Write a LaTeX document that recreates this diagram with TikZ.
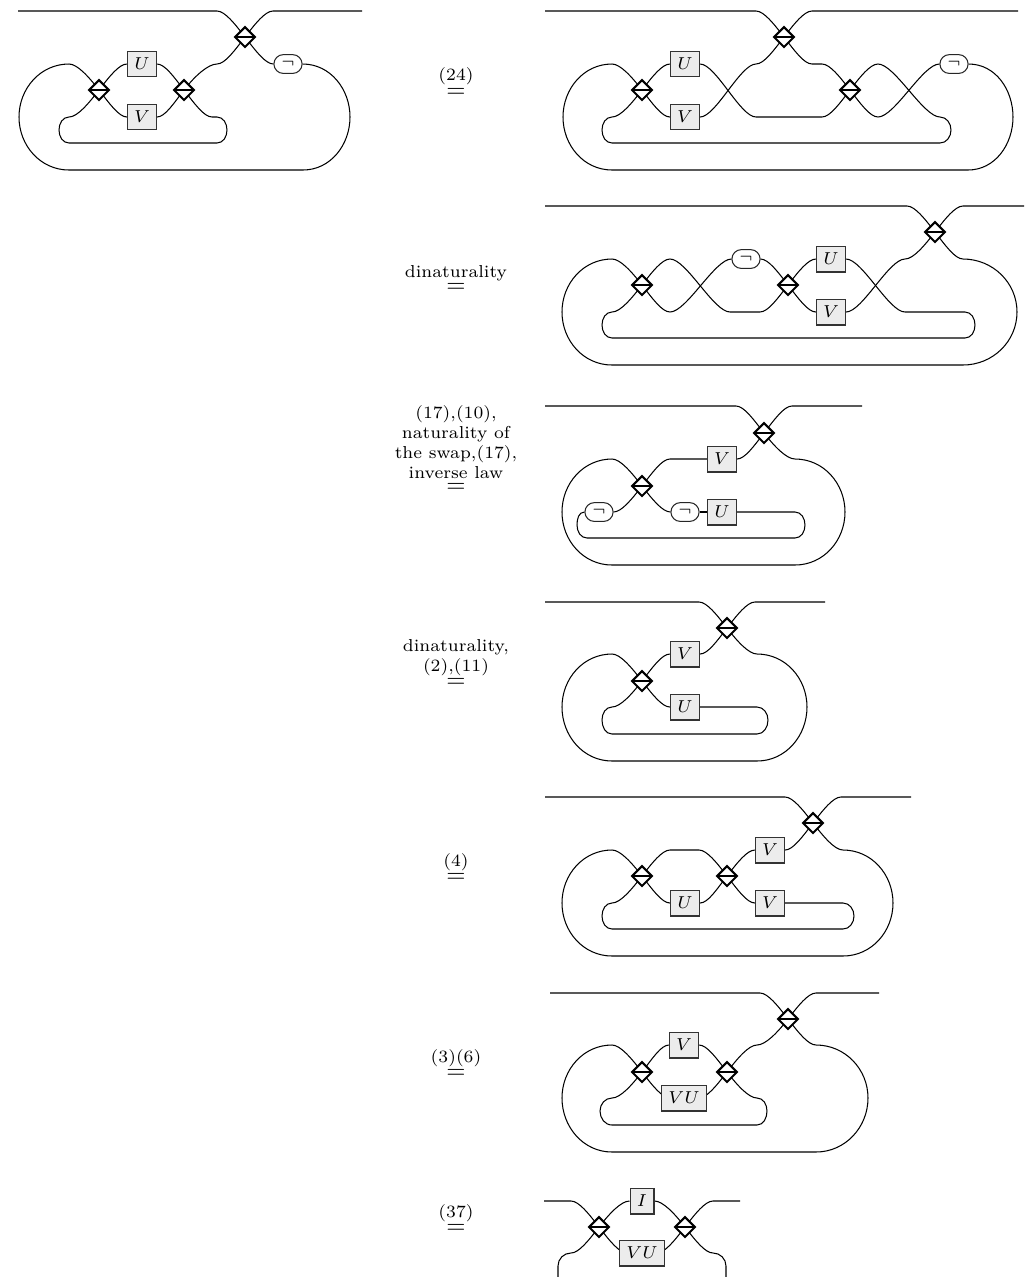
\documentclass[tikz,border=0pt]{standalone}
\usetikzlibrary{shapes.geometric}
\definecolor{boxfill}{HTML}{ECECEC}
\pgfdeclarelayer{wires}
\pgfsetlayers{wires,main}
\newcommand{\eqlab}[1]{$\stackrel{\mbox{\scriptsize\vbox{\baselineskip=8pt\halign{\hfil##\hfil\cr#1\cr}}}}{=}$}
\tikzset{
  wire/.style={line width=0.4pt},
  dia/.style={diamond,shape aspect=1,draw,fill=white,line width=0.8pt,minimum width=8pt,minimum height=8pt,inner sep=0pt,
    path picture={\draw[line width=0.8pt] (path picture bounding box.west) -- (path picture bounding box.east);}},
  ubox/.style={rectangle,draw=black!80,fill=boxfill,line width=0.4pt,scale=0.95,minimum width=11.8pt,minimum height=10.5pt,inner sep=0pt,font=\scriptsize},
  negn/.style={rectangle,draw=black!85,fill=white,rounded corners=3.6pt,line width=0.4pt,scale=0.95,minimum width=11.4pt,minimum height=7.6pt,inner sep=0pt,font=\scriptsize},
  eqn/.style={anchor=base,inner sep=0pt,scale=0.95},
  inUL/.style={out=0,in=127.7,out looseness=.53,in looseness=1.1},
  inUR/.style={out=180,in=52.3,out looseness=.53,in looseness=1.1},
  inLL/.style={out=0,in=232.3,out looseness=.53,in looseness=1.1},
  inLR/.style={out=180,in=307.7,out looseness=.53,in looseness=1.1},
  outUL/.style={out=127.7,in=0,out looseness=1.1,in looseness=.53},
  outUR/.style={out=52.3,in=180,out looseness=1.1,in looseness=.53},
  outLL/.style={out=232.3,in=0,out looseness=1.1,in looseness=.53},
  outLR/.style={out=307.7,in=180,out looseness=1.1,in looseness=.53},
  crossR/.style={out=0,in=180,looseness=.52},
  crossL/.style={out=180,in=0,looseness=.52}
}
\begin{document}
\begin{tikzpicture}[x=0.3846pt,y=-0.3846pt]
\useasboundingbox (0,0) rectangle (1024,1277);
% ---------- A
\node[dia] (aD) at (245,37) {};
\node[dia] (aL) at (99,90) {};
\node[dia] (aR) at (184,90) {};
\node[ubox] (aU) at (142,64) {$U$};
\node[ubox] (aV) at (142,117) {$V$};
\node[negn] (aN) at (288,64) {$\neg$};
\coordinate (a1) at (18,11); \coordinate (a2) at (217,11); \coordinate (a3) at (273,11); \coordinate (a4) at (362,11);
\coordinate (a5) at (217,64); \coordinate (a6) at (350,117); \coordinate (a7) at (303,170); \coordinate (a8) at (69,170);
\coordinate (a9) at (19,117); \coordinate (a10) at (69,64); \coordinate (a11) at (69,117); \coordinate (a12) at (59,130);
\coordinate (a13) at (69,143); \coordinate (a14) at (217,143); \coordinate (a15) at (227,130); \coordinate (a16) at (217,117); \coordinate (a17) at (212,117);
\begin{pgfonlayer}{wires}
\draw[wire] (a1) -- (a2) to[inUL] (aD.center);
\draw[wire] (aD.center) to[outUR] (a3) -- (a4);
\draw[wire] (aD.center) to[outLL] (a5) to[inUR] (aR.center);
\draw[wire] (aD.center) to[outLR] (aN.west);
\draw[wire] (aN.east) to[out=0,in=90] (a6) to[out=270,in=0] (a7) -- (a8) to[out=180,in=270] (a9) to[out=90,in=180] (a10) to[inUL] (aL.center);
\draw[wire] (aL.center) to[outUR] (aU.west);
\draw[wire] (aL.center) to[outLR] (aV.west);
\draw[wire] (aU.east) to[inUL] (aR.center);
\draw[wire] (aV.east) to[inLL] (aR.center);
\draw[wire] (aL.center) to[outLL] (a11) to[out=180,in=90] (a12) to[out=270,in=180] (a13) -- (a14) to[out=0,in=270] (a15) to[out=90,in=0] (a16) -- (a17) to[inLR] (aR.center);
\end{pgfonlayer}
% ---------- B
\node[dia] (bD) at (784,37) {};
\node[dia] (bL) at (642,90) {};
\node[dia] (bR) at (850,90) {};
\node[ubox] (bU) at (685,64) {$U$};
\node[ubox] (bV) at (685,117) {$V$};
\node[negn] (bN) at (954,64) {$\neg$};
\coordinate (b1) at (545,11); \coordinate (b2) at (756,11); \coordinate (b3) at (812,11); \coordinate (b4) at (1018,11);
\coordinate (b5) at (756,64); \coordinate (b6) at (756,117); \coordinate (b7) at (822,117); \coordinate (b8) at (812,64); \coordinate (b8a) at (822,64);
\coordinate (b9) at (878,64); \coordinate (b10) at (878,117); \coordinate (b11) at (940,117); \coordinate (b12) at (951,130);
\coordinate (b13) at (940,143); \coordinate (b14) at (612,143); \coordinate (b15) at (602,130); \coordinate (b16) at (612,117);
\coordinate (b17) at (1013,117); \coordinate (b18) at (968,170); \coordinate (b19) at (612,170); \coordinate (b20) at (563,117); \coordinate (b21) at (612,64);
\begin{pgfonlayer}{wires}
\draw[wire] (b1) -- (b2) to[inUL] (bD.center);
\draw[wire] (bD.center) to[outUR] (b3) -- (b4);
\draw[wire] (bD.center) to[outLL] (b5) to[crossL] (bV.east);
\draw[wire] (bU.east) to[crossR] (b6) -- (b7) to[inLL] (bR.center);
\draw[wire] (bD.center) to[outLR] (b8) -- (b8a) to[inUL] (bR.center);
\draw[wire] (bR.center) to[outUR] (b9) to[crossR] (b11) to[out=0,in=90] (b12) to[out=270,in=0] (b13) -- (b14) to[out=180,in=270] (b15) to[out=90,in=180] (b16) to[inLL] (bL.center);
\draw[wire] (bR.center) to[outLR] (b10) to[crossR] (bN.west);
\draw[wire] (bN.east) to[out=0,in=90] (b17) to[out=270,in=0] (b18) -- (b19) to[out=180,in=270] (b20) to[out=90,in=180] (b21) to[inUL] (bL.center);
\draw[wire] (bL.center) to[outUR] (bU.west);
\draw[wire] (bL.center) to[outLR] (bV.west);
\end{pgfonlayer}
% ---------- C
\node[dia] (cD) at (935,232) {};
\node[dia] (cL) at (642,285) {};
\node[dia] (cR) at (788,285) {};
\node[ubox] (cU) at (831,259) {$U$};
\node[ubox] (cV) at (831,312) {$V$};
\node[negn] (cN) at (746,259) {$\neg$};
\coordinate (c1) at (545,206); \coordinate (c2) at (907,206); \coordinate (c3) at (963,206); \coordinate (c4) at (1024,206);
\coordinate (c5) at (963,259); \coordinate (c6) at (1017,312); \coordinate (c7) at (963,365); \coordinate (c8) at (612,365);
\coordinate (c9) at (562,312); \coordinate (c10) at (612,259); \coordinate (c11) at (670,259); \coordinate (c12) at (670,312);
\coordinate (c13) at (730,312); \coordinate (c14) at (760,312); \coordinate (c15) at (905,312); \coordinate (c16) at (965,312);
\coordinate (c17) at (975,325); \coordinate (c18) at (965,338); \coordinate (c19) at (612,338); \coordinate (c20) at (602,325);
\coordinate (c21) at (612,312); \coordinate (c22) at (905,259);
\begin{pgfonlayer}{wires}
\draw[wire] (c1) -- (c2) to[inUL] (cD.center);
\draw[wire] (cD.center) to[outUR] (c3) -- (c4);
\draw[wire] (cD.center) to[outLR] (c5) to[out=0,in=90] (c6) to[out=270,in=0] (c7) -- (c8) to[out=180,in=270] (c9) to[out=90,in=180] (c10) to[inUL] (cL.center);
\draw[wire] (cL.center) to[outUR] (c11) to[crossR] (c13) -- (c14) to[inLL] (cR.center);
\draw[wire] (cL.center) to[outLR] (c12) to[crossR] (cN.west);
\draw[wire] (cN.east) to[inUL] (cR.center);
\draw[wire] (cR.center) to[outUR] (cU.west);
\draw[wire] (cR.center) to[outLR] (cV.west);
\draw[wire] (cU.east) to[crossR] (c15) -- (c16) to[out=0,in=90] (c17) to[out=270,in=0] (c18) -- (c19) to[out=180,in=270] (c20) to[out=90,in=180] (c21) to[inLL] (cL.center);
\draw[wire] (cV.east) to[crossR] (c22) to[inLL] (cD.center);
\end{pgfonlayer}
% ---------- D
\node[dia] (dD) at (764,433) {};
\node[dia] (dL) at (642,486) {};
\node[ubox] (dV) at (722,459) {$V$};
\node[ubox] (dU) at (722,512) {$U$};
\node[negn] (dN) at (599,512) {$\neg$};
\node[negn] (dM) at (685,512) {$\neg$};
\coordinate (d1) at (545,406); \coordinate (d2) at (736,406); \coordinate (d3) at (792,406); \coordinate (d4) at (862,406);
\coordinate (d5) at (795,459); \coordinate (d6) at (845,512); \coordinate (d7) at (795,565); \coordinate (d8) at (612,565);
\coordinate (d9) at (562,512); \coordinate (d10) at (612,459); \coordinate (d11) at (670,459); \coordinate (d12) at (577,525);
\coordinate (d13) at (587,538); \coordinate (d14) at (795,538); \coordinate (d15) at (805,525); \coordinate (d16) at (795,512);
\begin{pgfonlayer}{wires}
\draw[wire] (d1) -- (d2) to[inUL] (dD.center);
\draw[wire] (dD.center) to[outUR] (d3) -- (d4);
\draw[wire] (dD.center) to[outLR] (d5) to[out=0,in=90] (d6) to[out=270,in=0] (d7) -- (d8) to[out=180,in=270] (d9) to[out=90,in=180] (d10) to[inUL] (dL.center);
\draw[wire] (dL.center) to[outUR] (d11) -- (dV.west);
\draw[wire] (dV.east) to[inLL] (dD.center);
\draw[wire] (dL.center) to[outLL] (dN.east);
\draw[wire] (dN.west) to[out=180,in=90] (d12) to[out=270,in=180] (d13) -- (d14) to[out=0,in=270] (d15) to[out=90,in=0] (d16) -- (dU.east);
\draw[wire] (dL.center) to[outLR] (dM.west);
\draw[wire] (dM.east) -- (dU.west);
\end{pgfonlayer}
% ---------- E
\node[dia] (eD) at (727,628) {};
\node[dia] (eL) at (642,681) {};
\node[ubox] (eV) at (685,654) {$V$};
\node[ubox] (eU) at (685,707) {$U$};
\coordinate (e1) at (545,602); \coordinate (e2) at (699,602); \coordinate (e3) at (755,602); \coordinate (e4) at (825,602);
\coordinate (e5) at (757,654); \coordinate (e6) at (807,707); \coordinate (e7) at (757,761); \coordinate (e8) at (612,761);
\coordinate (e9) at (562,707); \coordinate (e10) at (612,654); \coordinate (e11) at (612,707); \coordinate (e12) at (602,720);
\coordinate (e13) at (612,734); \coordinate (e14) at (757,734); \coordinate (e15) at (768,720); \coordinate (e16) at (757,707);
\begin{pgfonlayer}{wires}
\draw[wire] (e1) -- (e2) to[inUL] (eD.center);
\draw[wire] (eD.center) to[outUR] (e3) -- (e4);
\draw[wire] (eD.center) to[outLL] (eV.east);
\draw[wire] (eV.west) to[inUR] (eL.center);
\draw[wire] (eD.center) to[outLR] (e5) to[out=0,in=90] (e6) to[out=270,in=0] (e7) -- (e8) to[out=180,in=270] (e9) to[out=90,in=180] (e10) to[inUL] (eL.center);
\draw[wire] (eL.center) to[outLL] (e11) to[out=180,in=90] (e12) to[out=270,in=180] (e13) -- (e14) to[out=0,in=270] (e15) to[out=90,in=0] (e16) -- (eU.east);
\draw[wire] (eL.center) to[outLR] (eU.west);
\end{pgfonlayer}
% ---------- F
\node[dia] (fD) at (813,823) {};
\node[dia] (fL) at (642,876) {};
\node[dia] (fR) at (727,876) {};
\node[ubox] (fV) at (770,850) {$V$};
\node[ubox] (fU) at (685,903) {$U$};
\node[ubox] (fW) at (770,903) {$V$};
\coordinate (f1) at (545,797); \coordinate (f2) at (785,797); \coordinate (f3) at (841,797); \coordinate (f4) at (911,797);
\coordinate (f5) at (843,850); \coordinate (f6) at (893,903); \coordinate (f7) at (843,956); \coordinate (f8) at (612,956);
\coordinate (f9) at (562,903); \coordinate (f10) at (612,850); \coordinate (f11) at (670,850); \coordinate (f12) at (699,850);
\coordinate (f13) at (612,903); \coordinate (f14) at (602,916); \coordinate (f15) at (612,929); \coordinate (f16) at (843,929);
\coordinate (f17) at (854,916); \coordinate (f18) at (843,903);
\begin{pgfonlayer}{wires}
\draw[wire] (f1) -- (f2) to[inUL] (fD.center);
\draw[wire] (fD.center) to[outUR] (f3) -- (f4);
\draw[wire] (fD.center) to[outLL] (fV.east);
\draw[wire] (fV.west) to[inUR] (fR.center);
\draw[wire] (fD.center) to[outLR] (f5) to[out=0,in=90] (f6) to[out=270,in=0] (f7) -- (f8) to[out=180,in=270] (f9) to[out=90,in=180] (f10) to[inUL] (fL.center);
\draw[wire] (fL.center) to[outUR] (f11) -- (f12) to[inUL] (fR.center);
\draw[wire] (fL.center) to[outLL] (f13) to[out=180,in=90] (f14) to[out=270,in=180] (f15) -- (f16) to[out=0,in=270] (f17) to[out=90,in=0] (f18) -- (fW.east);
\draw[wire] (fL.center) to[outLR] (fU.west);
\draw[wire] (fU.east) to[inLL] (fR.center);
\draw[wire] (fR.center) to[outLR] (fW.west);
\end{pgfonlayer}
% ---------- G
\node[dia] (gD) at (788,1019) {};
\node[dia] (gL) at (642,1072) {};
\node[dia] (gR) at (727,1072) {};
\node[ubox] (gV) at (684,1045) {$V$};
\node[ubox,minimum width=18.2pt] (gW) at (684,1098) {$VU$};
\coordinate (g1) at (550,993); \coordinate (g2) at (760,993); \coordinate (g3) at (816,993); \coordinate (g4) at (879,993);
\coordinate (g5) at (757,1045); \coordinate (g6) at (816,1045); \coordinate (g7) at (868,1098); \coordinate (g8) at (816,1152);
\coordinate (g9) at (612,1152); \coordinate (g10) at (562,1098); \coordinate (g11) at (612,1045); \coordinate (g12) at (612,1098);
\coordinate (g13) at (600,1111); \coordinate (g14) at (612,1125); \coordinate (g15) at (757,1125); \coordinate (g16) at (767,1111); \coordinate (g17) at (757,1098);
\coordinate (g18) at (670,1098); \coordinate (g19) at (699,1098);
\begin{pgfonlayer}{wires}
\draw[wire] (g1) -- (g2) to[inUL] (gD.center);
\draw[wire] (gD.center) to[outUR] (g3) -- (g4);
\draw[wire] (gD.center) to[outLL] (g5) to[inUR] (gR.center);
\draw[wire] (gD.center) to[outLR] (g6) to[out=0,in=90] (g7) to[out=270,in=0] (g8) -- (g9) to[out=180,in=270] (g10) to[out=90,in=180] (g11) to[inUL] (gL.center);
\draw[wire] (gL.center) to[outUR] (gV.west);
\draw[wire] (gV.east) to[inUL] (gR.center);
\draw[wire] (gL.center) to[outLR] (g18) -- (gW.center) -- (g19) to[inLL] (gR.center);
\draw[wire] (gL.center) to[outLL] (g12) to[out=180,in=90] (g13) to[out=270,in=180] (g14) -- (g15) to[out=0,in=270] (g16) to[out=90,in=0] (g17) to[inLR] (gR.center);
\end{pgfonlayer}
% ---------- H
\node[dia] (hL) at (599,1227) {};
\node[dia] (hR) at (685,1227) {};
\node[ubox,minimum width=9.7pt] (hI) at (642,1201) {$I$};
\node[ubox,minimum width=18.2pt] (hW) at (642,1253) {$VU$};
\coordinate (h1) at (544,1201); \coordinate (h2) at (571,1201); \coordinate (h3) at (713,1201); \coordinate (h4) at (740,1201);
\coordinate (h5) at (571,1253); \coordinate (h6) at (558,1266); \coordinate (h7) at (558,1277);
\coordinate (h8) at (713,1253); \coordinate (h9) at (726,1266); \coordinate (h10) at (726,1277);
\coordinate (h11) at (627,1253); \coordinate (h12) at (657,1253);
\begin{pgfonlayer}{wires}
\draw[wire] (h1) -- (h2) to[inUL] (hL.center);
\draw[wire] (hR.center) to[outUR] (h3) -- (h4);
\draw[wire] (hL.center) to[outUR] (hI.west);
\draw[wire] (hI.east) to[inUL] (hR.center);
\draw[wire] (hL.center) to[outLR] (h11) -- (hW.center) -- (h12) to[inLL] (hR.center);
\draw[wire] (hL.center) to[outLL] (h5) to[out=180,in=90] (h6) -- (h7);
\draw[wire] (hR.center) to[outLR] (h8) to[out=0,in=90] (h9) -- (h10);
\end{pgfonlayer}
% ---------- equalities
\node[eqn] (q1) at (456,97) {\eqlab{(24)}};
\node[eqn] (q2) at (456,292.5) {\eqlab{dinaturality}};
\node[eqn] (q3) at (456,492.2) {\eqlab{(17),(10),\cr naturality of\cr the swap,(17),\cr inverse law}};
\node[eqn] (q4) at (456,687.7) {\eqlab{dinaturality,\cr (2),(11)}};
\node[eqn] (q5) at (456,882.5) {\eqlab{(4)}};
\node[eqn] (q6) at (456,1078.5) {\eqlab{(3)(6)}};
\node[eqn] (q7) at (456,1233.7) {\eqlab{(37)}};
\end{tikzpicture}
\end{document}
